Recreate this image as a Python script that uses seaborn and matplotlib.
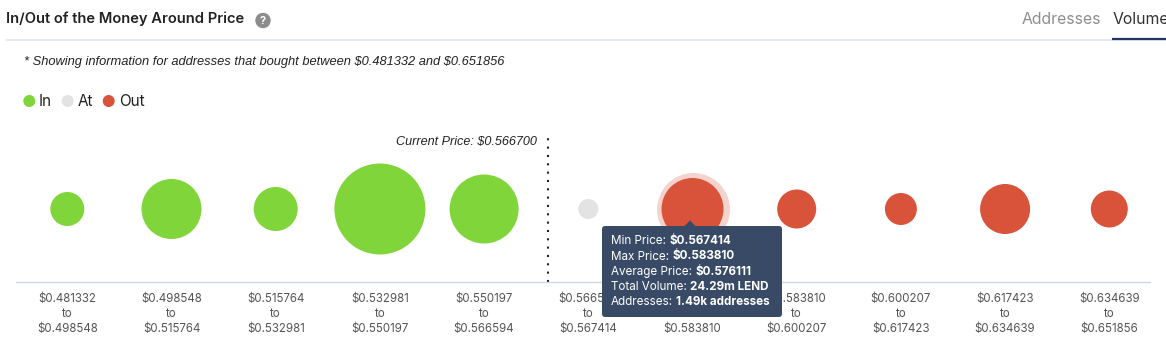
import numpy as np
import pandas as pd
import matplotlib
matplotlib.use("Agg")
import matplotlib.pyplot as plt
from matplotlib.patches import FancyBboxPatch, Polygon, Circle
import seaborn as sns

# ---------------- data ----------------
bin_low = [0.481332, 0.498548, 0.515764, 0.532981, 0.550197, 0.566594,
           0.567414, 0.583810, 0.600207, 0.617423, 0.634639]
bin_high = [0.498548, 0.515764, 0.532981, 0.550197, 0.566594, 0.567414,
            0.583810, 0.600207, 0.617423, 0.634639, 0.651856]
status = ["In", "In", "In", "In", "In", "At", "Out", "Out", "Out", "Out", "Out"]
volume_m = [7.30, 22.75, 12.23, 52.33, 30.08, 2.53, 24.29, 9.61, 6.47, 15.80, 8.65]
current_price = 0.566700
range_low, range_high = 0.481332, 0.651856

hover_idx = 6
tip_min, tip_max, tip_avg = 0.567414, 0.583810, 0.576111
tip_volume = "24.29m LEND"
tip_addresses = "1.49k addresses"

palette = {"In": "#80d53b", "At": "#e3e3e3", "Out": "#d9533a"}

# ---------------- style ----------------
sns.set_style("white")
plt.rcParams["font.family"] = ["Inter", "DejaVu Sans"]
ITALIC = ["Liberation Sans", "DejaVu Sans"]

W, H = 1166, 349
fig = plt.figure(figsize=(W / 100, H / 100), dpi=100)

# main bubble axes (pixel geometry)
ax_l, ax_r, ax_b, ax_t = 16, 1150, 282, 130
ax = fig.add_axes([ax_l / W, (H - ax_b) / H, (ax_r - ax_l) / W, (ax_b - ax_t) / H])

df = pd.DataFrame({
    "idx": np.arange(len(volume_m)),
    "y": np.zeros(len(volume_m)),
    "volume": volume_m,
    "status": status,
    "label": [f"\\${lo:.6f}\nto\n\\${hi:.6f}" for lo, hi in zip(bin_low, bin_high)],
})

vmax = max(volume_m)
smax = (0.72 * 91) ** 2

# hover halo
halo = df.iloc[[hover_idx]].copy()
halo["volume"] = halo["volume"] * (73 / 62) ** 2
sns.scatterplot(data=halo, x="idx", y="y", size="volume", sizes=(0, smax),
                size_norm=(0, vmax), color=palette["Out"], alpha=0.25,
                linewidth=0, legend=False, ax=ax)

sns.scatterplot(data=df, x="idx", y="y", hue="status", palette=palette,
                size="volume", sizes=(0, smax), size_norm=(0, vmax),
                linewidth=0, alpha=1, legend=False, ax=ax)

sp = 104.2
c0 = 67.3
ax.set_xlim((ax_l - c0) / sp, (ax_r - c0) / sp)
ax.set_ylim(-(ax_b - 209) / 152, (209 - ax_t) / 152)
ax.set_xticks(df["idx"])
ax.set_xticklabels(df["label"], fontsize=8.3, color="#555555", linespacing=1.3)
ax.tick_params(axis="x", length=0, pad=8)
ax.set_yticks([])
ax.set_xlabel("")
ax.set_ylabel("")
for s in ["top", "left", "right"]:
    ax.spines[s].set_visible(False)
ax.spines["bottom"].set_color("#cdd9e8")
ax.spines["bottom"].set_linewidth(1)

# current price dotted line
cur_x = 4.61
y_bot, y_top = ax.get_ylim()
ax.plot([cur_x, cur_x], [y_bot, (209 - 138) / 152], color="#222222",
        linestyle=(0, (1, 3)), linewidth=1.5, dash_capstyle="butt", zorder=1)

# ---------------- overlay (header, legend, tooltip) ----------------
ov = fig.add_axes([0, 0, 1, 1])
ov.set_xlim(0, W)
ov.set_ylim(H, 0)
ov.axis("off")
ov.patch.set_alpha(0)
ov.set_zorder(5)

ov.text(6, 19, "In/Out of the Money Around Price", fontsize=10.6,
        fontweight="semibold", color="#222222", va="center", ha="left")
ov.add_patch(Circle((263, 20.5), 7, color="#8c8c8c"))
ov.text(263, 20.8, "?", fontsize=8, fontweight="bold", color="white",
        ha="center", va="center")

ov.text(1022, 19.5, "Addresses", fontsize=11.4, color="#8e8e8e", va="center", ha="left")
ov.text(1113, 19.5, "Volume", fontsize=11.4, color="#333333", va="center", ha="left")
ov.plot([6, W], [40, 40], color="#e1e8ef", linewidth=1.2)
ov.plot([1112, W], [38.8, 38.8], color="#1f3566", linewidth=1.6,
        solid_capstyle="butt")

ov.text(24, 62, f"* Showing information for addresses that bought between \\${range_low:.6f} and \\${range_high:.6f}",
        fontsize=9.25, style="italic", color="#222222", va="center", ha="left",
        family=ITALIC)

# legend
for cx, tx, lab in [(29.3, 38.5, "In"), (67.7, 77.5, "At"), (108.7, 119, "Out")]:
    ov.add_patch(Circle((cx, 101), 5.3, color=palette[lab], zorder=6))
    ov.text(tx, 101, lab, fontsize=11, color="#222222", va="center", ha="left")

ov.text(537, 142, f"Current Price: \\${current_price:.6f}", fontsize=9.1,
        style="italic", color="#222222", va="center", ha="right",
        family=ITALIC)

# tooltip
tip_col = "#384a66"
ov.add_patch(FancyBboxPatch((602, 226), 180, 91,
                            boxstyle="round,pad=0,rounding_size=3",
                            facecolor=tip_col, edgecolor="none", zorder=7))
ov.add_patch(Polygon([(684, 226.5), (690, 220.5), (696, 226.5)],
                     closed=True, facecolor=tip_col, edgecolor="none", zorder=7))

lines = [("Min Price:", f"\\${tip_min:.6f}"),
         ("Max Price:", f"\\${tip_max:.6f}"),
         ("Average Price:", f"\\${tip_avg:.6f}"),
         ("Total Volume:", tip_volume),
         ("Addresses:", tip_addresses)]
ys = [241, 256.5, 271.5, 287, 302]
renderer = fig.canvas.get_renderer()
inv = ov.transData.inverted()
for (lab, val), yy in zip(lines, ys):
    t = ov.text(611, yy, lab, fontsize=8.4, color="white", va="center",
                ha="left", zorder=8)
    bb = t.get_window_extent(renderer)
    xe = inv.transform((bb.x1, bb.y0))[0]
    ov.text(xe + 3.5, yy, val, fontsize=8.4, color="white", fontweight="bold",
            va="center", ha="left", zorder=8)

fig.savefig("out.png", dpi=100, facecolor="white")
